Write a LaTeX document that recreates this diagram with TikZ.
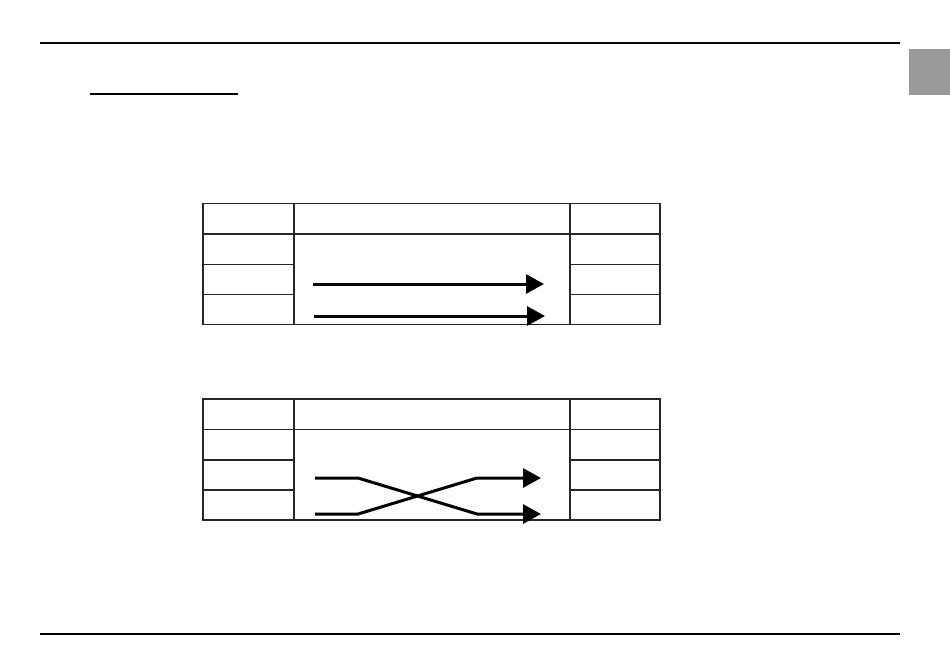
\documentclass[tikz,border=0pt]{standalone}
\usetikzlibrary{arrows.meta}
\definecolor{tabgray}{HTML}{999999}
\tikzset{
  rule/.style={line width=1.6pt, black},
  cell/.style={draw=black!85, line width=1.3pt},
  flow/.style={line width=3pt, -{Triangle[length=18pt,width=19pt]}},
}
\begin{document}
\begin{tikzpicture}[x=1pt,y=-1pt]
\useasboundingbox (0,0) rectangle (950,670);
% header/footer rules
\coordinate (tl) at (40,43); \coordinate (tr) at (900,43);
\draw[rule] (tl) -- (tr);
\coordinate (ul) at (90,94); \coordinate (ur) at (238,94);
\draw[rule] (ul) -- (ur);
\fill[tabgray] (909,49) rectangle (950,95);
\coordinate (bl) at (40,634); \coordinate (br) at (900,634);
\draw[rule] (bl) -- (br);
% table 1
\foreach \t/\y in {A/203.5,B/399} {
  \pgfmathsetmacro{\ya}{\y}
  \pgfmathsetmacro{\yb}{\y+30.5}
  \pgfmathsetmacro{\yc}{\y+61}
  \pgfmathsetmacro{\yd}{\y+91}
  \pgfmathsetmacro{\ye}{\y+121}
  \draw[cell] (203,\ya) rectangle (294,\yb);
  \draw[cell] (294,\ya) rectangle (570,\yb);
  \draw[cell] (570,\ya) rectangle (660,\yb);
  \draw[cell] (203,\yb) rectangle (294,\yc);
  \draw[cell] (203,\yc) rectangle (294,\yd);
  \draw[cell] (203,\yd) rectangle (294,\ye);
  \draw[cell] (294,\yb) rectangle (570,\ye);
  \draw[cell] (570,\yb) rectangle (660,\yc);
  \draw[cell] (570,\yc) rectangle (660,\yd);
  \draw[cell] (570,\yd) rectangle (660,\ye);
}
% straight arrows
\coordinate (a1s) at (313,284); \coordinate (a1e) at (544,284);
\coordinate (a2s) at (314,316); \coordinate (a2e) at (545,316);
\draw[flow] (a1s) -- (a1e);
\draw[flow] (a2s) -- (a2e);
% crossing arrows
\coordinate (c1s) at (315,478); \coordinate (c1a) at (358,478);
\coordinate (c1b) at (477,514); \coordinate (c1e) at (541,514);
\coordinate (c2s) at (315,514); \coordinate (c2a) at (358,514);
\coordinate (c2b) at (477,478); \coordinate (c2e) at (541,478);
\draw[flow] (c1s) -- (c1a) -- (c1b) -- (c1e);
\draw[flow] (c2s) -- (c2a) -- (c2b) -- (c2e);
\end{tikzpicture}
\end{document}
